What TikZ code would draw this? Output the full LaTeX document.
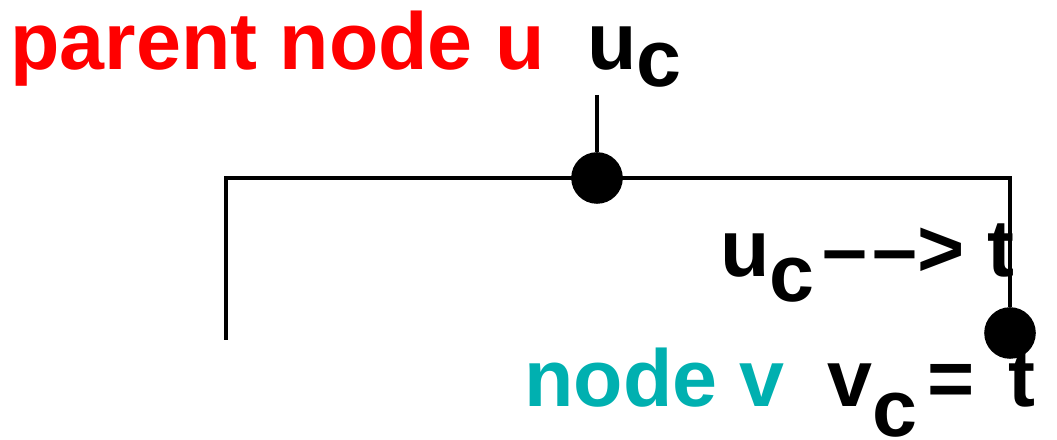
\documentclass[tikz,border=0pt]{standalone}
\usepackage{fontspec}
\setmainfont{Liberation Sans}
\usepackage{tikz}
\definecolor{nodered}{RGB}{255,0,0}
\definecolor{nodeteal}{RGB}{0,176,176}
\newcommand{\subc}[1]{\raisebox{-#1}{c}}

\begin{document}
\begin{tikzpicture}[line width=1.3pt, dot/.style = {draw, circle, fill, inner sep=0pt, minimum size=4.7mm}, lbl/.style = {inner sep=0pt, anchor=base west, font=\fontsize{23}{27}\selectfont\bfseries}]
    \useasboundingbox (0,0) rectangle (10.57,-4.40);
    \coordinate (top) at (5.97,-0.95);
    \coordinate (tl) at (2.26,-1.78);
    \coordinate (bl) at (2.26,-3.40);
    \coordinate (tr) at (10.10,-1.78);
    \node[dot] (uc) at (5.97,-1.78) {};
    \node[dot] (t) at (10.10,-3.33) {};
    \draw (top) -- (uc);
    \draw (bl) -- (tl) -- (tr) -- (t);
    \node[lbl, nodered] (parent) at (0.08,-0.70) {parent node u};
    \node[lbl] (ulabel) at (5.85,-0.70) {u\subc{0.21em}};
    \node[lbl] (path) at (7.18,-2.77) {u\subc{0.3em}\kern0.1em\textendash\kern1.5pt\textendash> t};
    \node[lbl, nodeteal] (child) at (5.22,-4.07) {node v};
    \node[lbl] (vlabel) at (8.25,-4.07) {v\subc{0.37em}\hspace{-0.15em} =\hspace{0.14em} t};
\end{tikzpicture}
\end{document}
